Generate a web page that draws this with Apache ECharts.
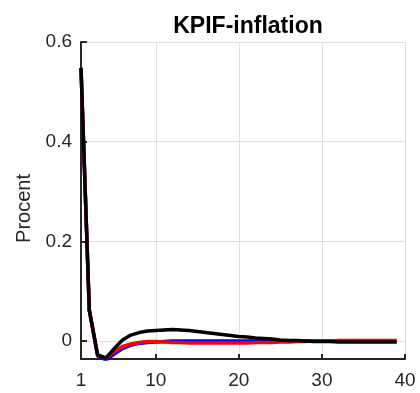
<!doctype html>
<html>
<head>
    <meta charset="UTF-8">
    <title>KPIF-inflation</title>
    <script src="https://cdn.jsdelivr.net/npm/echarts@6/dist/echarts.min.js"></script>
    <style>
        html, body { margin: 0; padding: 0; background: #fff; }
    </style>
</head>
<body>
<div id="main" style="width: 420px;height:393px;"></div>
<script type="text/javascript">
    // kvartal 1..39
    var quarters = [];
    for (var q = 1; q <= 39; q++) quarters.push(q);

    var blueVals = [0.548, 0.062, -0.030, -0.038, -0.026, -0.015, -0.008, -0.005, -0.003, -0.002,
        -0.001, 0.000, 0.000, 0.000, 0.000, 0.000, 0.000, 0.000, 0.000, 0.000,
        0.000, 0.000, 0.000, 0.000, 0.000, 0.000, 0.000, 0.000, 0.000, 0.000,
        0.000, 0.000, 0.000, 0.000, 0.000, 0.000, 0.000, 0.000, 0.000];
    var redVals = [0.548, 0.062, -0.028, -0.035, -0.021, -0.011, -0.006, -0.003, -0.001, -0.001,
        -0.002, -0.003, -0.003, -0.004, -0.004, -0.004, -0.004, -0.004, -0.004, -0.004,
        -0.004, -0.003, -0.003, -0.003, -0.002, -0.002, -0.001, -0.001, 0.000, 0.000,
        0.000, 0.001, 0.001, 0.001, 0.001, 0.001, 0.001, 0.001, 0.001];
    var blackVals = [0.548, 0.062, -0.028, -0.034, -0.015, 0.002, 0.012, 0.017, 0.020, 0.021,
        0.022, 0.023, 0.022, 0.021, 0.019, 0.017, 0.015, 0.013, 0.011, 0.009,
        0.008, 0.006, 0.005, 0.004, 0.002, 0.001, 0.001, 0.000, -0.001, -0.001,
        -0.001, -0.002, -0.002, -0.002, -0.002, -0.002, -0.002, -0.002, -0.002];

    var xTicks = [1, 10, 20, 30, 40];
    var yTicks = [0, 0.2, 0.4, 0.6];

    function pairs(vals) {
        return quarters.map(function (q, i) { return [q, vals[i]]; });
    }

    var axisColor = '#262626';
    var gridColor = '#dfdfdf';
    var font = 'Liberation Sans, Arial, sans-serif';

    var myChart = echarts.init(document.getElementById('main'));
    var option = {
        animation: false,
        backgroundColor: '#fff',
        title: {
            text: 'KPIF-inflation',
            left: 243,
            top: 10,
            textAlign: 'center',
            textStyle: {color: '#000', fontSize: 23, fontWeight: 'bold', fontFamily: font}
        },
        grid: {left: 81, right: 15, top: 42, bottom: 34, outerBoundsMode: 'none'},
        xAxis: {
            type: 'value',
            min: 1,
            max: 40,
            axisLine: {show: true, onZero: false, lineStyle: {color: axisColor, width: 2}},
            axisTick: {show: true, inside: true, length: 5, customValues: xTicks,
                lineStyle: {color: axisColor, width: 2}},
            axisLabel: {customValues: xTicks, color: axisColor, fontSize: 19, fontFamily: font, margin: 12},
            splitLine: {show: true, lineStyle: {color: gridColor, width: 1}}
        },
        yAxis: {
            type: 'value',
            min: -0.036,
            max: 0.6,
            name: 'Procent',
            nameLocation: 'middle',
            nameGap: 46,
            nameTextStyle: {color: axisColor, fontSize: 20, fontFamily: font, padding: [0, 16, 0, 0]},
            axisLine: {show: true, lineStyle: {color: axisColor, width: 2}},
            axisTick: {show: true, inside: true, length: 6, customValues: yTicks,
                lineStyle: {color: axisColor, width: 2}},
            axisLabel: {customValues: yTicks, color: axisColor, fontSize: 19, fontFamily: font, margin: 9,
                formatter: function (v) { return v === 0 ? '0' : String(Math.round(v * 10) / 10); }},
            splitLine: {show: true, lineStyle: {color: gridColor, width: 1}}
        },
        series: [{
            type: 'line',
            data: pairs(blueVals),
            showSymbol: false,
            symbol: 'none',
            lineStyle: {color: '#0000ff', width: 3.5}
        }, {
            type: 'line',
            data: pairs(redVals),
            showSymbol: false,
            symbol: 'none',
            lineStyle: {color: '#ff0000', width: 3.5}
        }, {
            type: 'line',
            data: pairs(blackVals),
            showSymbol: false,
            symbol: 'none',
            lineStyle: {color: '#000000', width: 3.5}
        }]
    };
    myChart.setOption(option);
</script>
</body>
</html>
